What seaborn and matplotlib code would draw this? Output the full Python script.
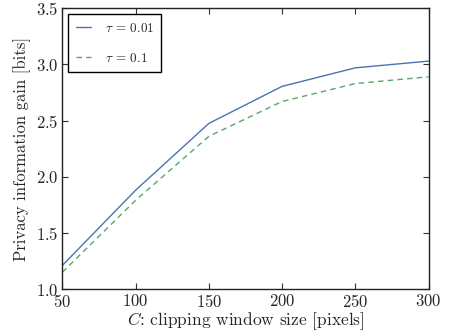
import matplotlib
matplotlib.use("Agg")
import matplotlib.pyplot as plt
import pandas as pd
import seaborn as sns

# Data
window_sizes = [50, 100, 150, 200, 250, 300]
gain_tau_001 = [1.21, 1.88, 2.475, 2.805, 2.97, 3.03]
gain_tau_01 = [1.15, 1.79, 2.36, 2.67, 2.83, 2.89]
labels = [r"$\tau$ = 0.01", r"$\tau$ = 0.1"]

df = pd.DataFrame({
    "C": window_sizes * 2,
    "gain": gain_tau_001 + gain_tau_01,
    "tau": [labels[0]] * len(window_sizes) + [labels[1]] * len(window_sizes),
})

sns.set_theme(style="ticks", palette="deep")
plt.rcParams["font.family"] = ["cmr10", "DejaVu Serif"]
plt.rcParams["mathtext.fontset"] = "cm"
plt.rcParams["axes.formatter.use_mathtext"] = True
plt.rcParams["axes.unicode_minus"] = False

fig, ax = plt.subplots(figsize=(4.55, 3.33), dpi=100)
colors = sns.color_palette("deep")

sns.lineplot(data=df, x="C", y="gain", hue="tau", style="tau",
             palette=[colors[0], colors[2]], dashes=[(), (4, 3)],
             linewidth=1.0, ax=ax)

ax.set_xlim(50, 300)
ax.set_ylim(1.0, 3.5)
ax.set_xticks([50, 100, 150, 200, 250, 300])
ax.set_yticks([1.0, 1.5, 2.0, 2.5, 3.0, 3.5])
ax.set_xlabel(r"$C$: clipping window size [pixels]", fontsize=12.5, labelpad=0)
ax.set_ylabel("Privacy information gain [bits]", fontsize=12, labelpad=3)
ax.tick_params(direction="in", top=True, right=True, labelsize=12, length=4,
               width=0.8, color="#333333", pad=3)
for s in ax.spines.values():
    s.set_color("#222222")
    s.set_linewidth(1.0)

leg = ax.legend(loc="upper left", fontsize=9.5, labelspacing=1.3,
                handlelength=1.2, handletextpad=1.0, borderpad=0.55,
                borderaxespad=0.45, fancybox=False, framealpha=1.0,
                edgecolor="black")
leg.get_frame().set_linewidth(1.0)

fig.subplots_adjust(left=0.137, right=0.942, top=0.975, bottom=0.132)
fig.savefig("out.png", dpi=100)
